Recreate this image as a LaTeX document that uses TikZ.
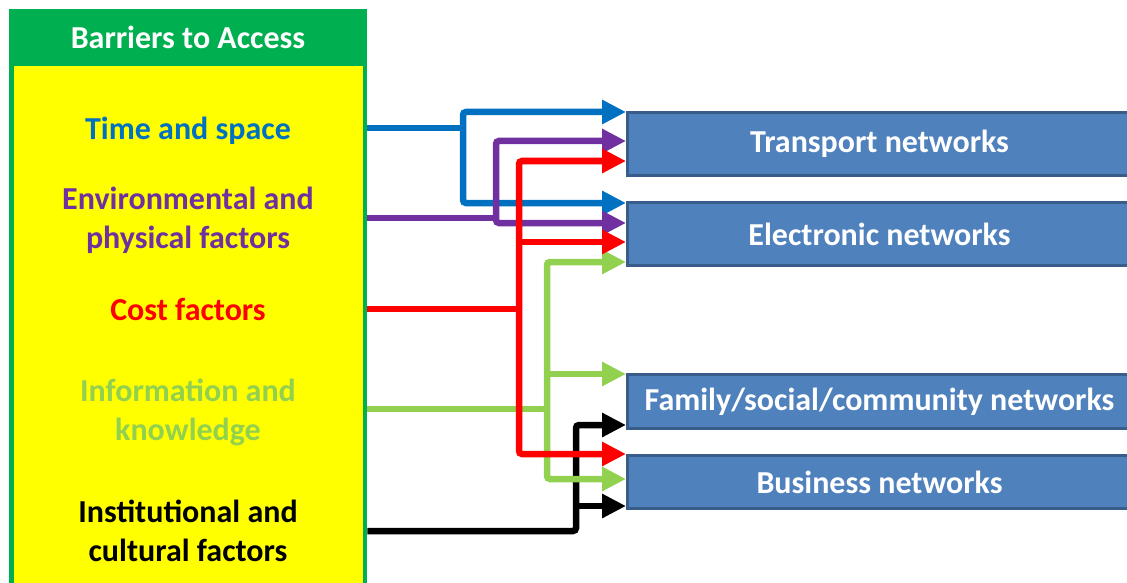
\documentclass[tikz,border=0pt]{standalone}
\usepackage{fontspec}
\setmainfont{Carlito}
\usetikzlibrary{arrows.meta}
\definecolor{panelgreen}{HTML}{00B050}
\definecolor{paneyellow}{HTML}{FFFF00}
\definecolor{tblue}{HTML}{0070C0}
\definecolor{tpurple}{HTML}{7030A0}
\definecolor{tred}{HTML}{FF0000}
\definecolor{tgreen}{HTML}{92D050}
\definecolor{boxfill}{HTML}{4F81BD}
\definecolor{boxedge}{HTML}{385D8A}
\begin{document}
\begin{tikzpicture}[x=1pt,y=-1pt,
  lbl/.style={font=\fontsize{32}{39}\selectfont\bfseries, align=center, inner sep=0pt},
  netbox/.style={fill=boxfill, draw=boxedge, line width=3pt, anchor=north west,
    minimum width=504pt, text=white, font=\fontsize{32}{36}\selectfont\bfseries},
  conn/.style={line width=6.5pt, rounded corners=3pt},
  tip/.style={-{Triangle[length=24pt,width=23pt]}},
  tips/.style={{Triangle[length=24pt,width=23pt]}-{Triangle[length=24pt,width=23pt]}}]
\useasboundingbox (0,0) rectangle (1127,583);
\clip (0,0) rectangle (1127,583);

% left panel: green frame with header, yellow body
\node[fill=panelgreen, anchor=north west, minimum width=358pt, minimum height=600pt, inner sep=0pt] (panel) at (9,9) {};
\node[fill=paneyellow, anchor=north west, minimum width=349pt, minimum height=540pt, inner sep=0pt] (body) at (13.5,66) {};
\node[lbl, text=white] (head) at (188,37) {Barriers to Access};

\node[lbl, text=tblue] (time) at (188,131) {Time and space};
\node[lbl, text=tpurple] (env) at (188,220) {Environmental and\\physical factors};
\node[lbl, text=tred] (cost) at (188,309) {Cost factors};
\node[lbl, text=tgreen] (info) at (188,412) {Information and\\knowledge};
\node[lbl, text=black] (inst) at (188,531) {Institutional and\\cultural factors};

% network boxes
\node[netbox, minimum height=63pt] (transport) at (626,111) {Transport networks};
\node[netbox, minimum height=63pt] (electronic) at (626,201) {Electronic networks};
\node[netbox, minimum height=54pt] (family) at (626,373) {Family/social/community networks};
\node[netbox, minimum height=53pt] (business) at (626,454) {Business networks};

% arrow targets on the left edges of the boxes
\coordinate (tr1) at (transport.west |- 0,112);
\coordinate (tr2) at (transport.west |- 0,141);
\coordinate (tr3) at (transport.west |- 0,161);
\coordinate (el1) at (electronic.west |- 0,203);
\coordinate (el2) at (electronic.west |- 0,223);
\coordinate (el3) at (electronic.west |- 0,242);
\coordinate (el4) at (electronic.west |- 0,262);
\coordinate (fa1) at (family.west |- 0,374);
\coordinate (fa2) at (family.west |- 0,425);
\coordinate (bu1) at (business.west |- 0,454);
\coordinate (bu2) at (business.west |- 0,479);
\coordinate (bu3) at (business.west |- 0,506);
% feed points on the right edge of the panel
\coordinate (f1) at (panel.east |- 0,128);
\coordinate (f2) at (panel.east |- 0,218);
\coordinate (f3) at (panel.east |- 0,309);
\coordinate (f4) at (panel.east |- 0,409);
\coordinate (f5) at (panel.east |- 0,531);

% time and space
\draw[conn, tblue] (f1) -- (466,128);
\draw[conn, tips, tblue] (tr1) -- (463,112) -- (463,203) -- (el1);
% environmental and physical factors
\draw[conn, tpurple] (f2) -- (499,218);
\draw[conn, tips, tpurple] (tr2) -- (496,141) -- (496,223) -- (el2);
% institutional and cultural factors
\draw[conn, tip, black] (f5) -- (576,531) -- (576,425) -- (fa2);
\draw[conn, tip, black] (573,506) -- (bu3);
% information and knowledge
\draw[conn, tgreen] (f4) -- (550,409);
\draw[conn, tips, tgreen] (el4) -- (547,262) -- (547,479) -- (bu2);
\draw[conn, tip, tgreen] (544,374) -- (fa1);
% cost factors
\draw[conn, tred] (f3) -- (522,309);
\draw[conn, tips, tred] (tr3) -- (519,161) -- (519,454) -- (bu1);
\draw[conn, tip, tred] (516,242) -- (el3);
\end{tikzpicture}
\end{document}
